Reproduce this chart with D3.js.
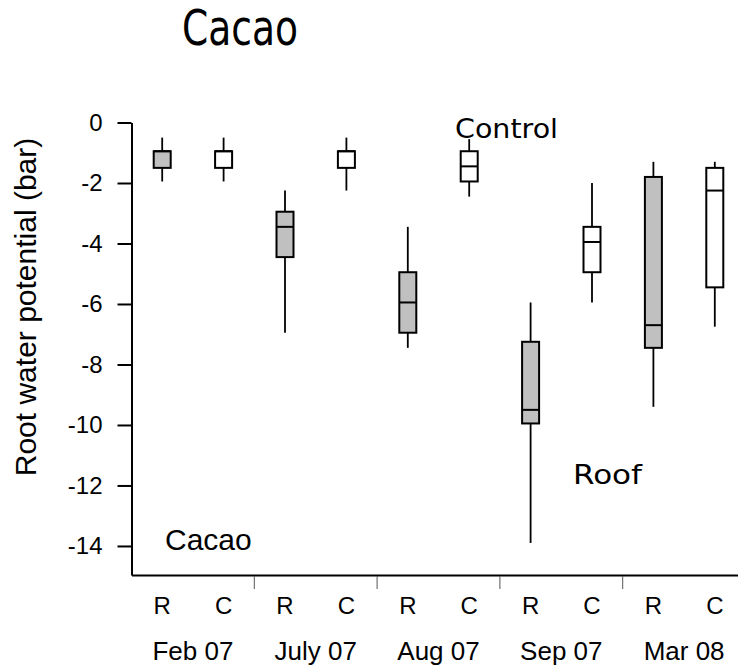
<!DOCTYPE html>
<html>
<head>
<meta charset="utf-8">
<script src="https://cdn.jsdelivr.net/npm/d3@7"></script>
<style>
  html, body { margin: 0; padding: 0; background: #fff; }
  svg { display: block; }
</style>
</head>
<body>
<div id="chart"></div>
<script>
// Data (bar)
const months = ["Feb 07", "July 07", "Aug 07", "Sep 07", "Mar 08"];
const treatments = ["R", "C"];
const yTicks = [0, -2, -4, -6, -8, -10, -12, -14];

// one entry per box, ordered Feb R, Feb C, July R, July C, ...
const whiskerHigh = [-0.5, -0.5, -2.25, -0.5, -3.45, -0.55, -5.95, -2.0, -1.3, -1.3];
const upperQuart = [-0.95, -0.95, -2.95, -0.95, -4.95, -0.95, -7.25, -3.45, -1.8, -1.5];
const medians = [-0.95, -0.95, -3.45, -0.95, -5.95, -1.45, -9.5, -3.95, -6.7, -2.25];
const lowerQuart = [-1.5, -1.5, -4.45, -1.5, -6.95, -1.95, -9.95, -4.95, -7.45, -5.45];
const whiskerLow = [-1.95, -1.95, -6.95, -2.25, -7.45, -2.45, -13.9, -5.95, -9.4, -6.75];

const width = 738;
const height = 669;

const svg = d3
  .select("#chart")
  .append("svg")
  .attr("width", width)
  .attr("height", height);

const keys = [];
months.forEach((m) => treatments.forEach((t) => keys.push(m + "|" + t)));

const boxes = keys.map((k, i) => ({
  key: k,
  treatment: k.split("|")[1],
  hi: whiskerHigh[i],
  q3: upperQuart[i],
  med: medians[i],
  q1: lowerQuart[i],
  lo: whiskerLow[i],
}));

const x = d3.scaleBand().domain(keys).range([131.5, 745.5]);
const xMonth = d3.scaleBand().domain(months).range([131.5, 745.5]);
const y = d3.scaleLinear().domain([0, -14.96]).range([122.5, 575]);

const sans = "'Liberation Sans', Arial, sans-serif";
const verd = "'DejaVu Sans', Verdana, sans-serif";

// Title
svg
  .append("text")
  .attr("x", 182)
  .attr("y", 45)
  .attr("font-family", verd)
  .attr("font-size", 49)
  .attr("textLength", 116)
  .attr("lengthAdjust", "spacingAndGlyphs")
  .text("Cacao");

// Y axis
const yAxis = svg
  .append("g")
  .attr("transform", "translate(131.5,0)")
  .call(
    d3.axisLeft(y).tickValues(yTicks).tickSize(14).tickSizeOuter(0).tickPadding(15)
  );
yAxis.select(".domain").attr("stroke", "#000").attr("stroke-width", 2);
yAxis.selectAll(".tick line").attr("stroke", "#000").attr("stroke-width", 2);
yAxis
  .selectAll(".tick text")
  .attr("font-family", sans)
  .attr("font-size", 24)
  .attr("fill", "#000")
  .text((d) => (d === 0 ? "0" : "-" + Math.abs(d)));

svg
  .append("text")
  .attr("transform", "translate(36,307) rotate(-90)")
  .attr("text-anchor", "middle")
  .attr("font-family", sans)
  .attr("font-size", 30)
  .text("Root water potential (bar)");

// X axis (R / C labels)
const xAxis = svg
  .append("g")
  .attr("transform", "translate(0,575)")
  .call(d3.axisBottom(x).tickSize(0).tickSizeOuter(0).tickPadding(22));
xAxis.select(".domain").attr("stroke", "#000").attr("stroke-width", 2);
xAxis
  .selectAll(".tick text")
  .attr("font-family", sans)
  .attr("font-size", 24)
  .attr("fill", "#000")
  .text((d) => d.split("|")[1]);

// separators between months
svg
  .append("g")
  .selectAll("line")
  .data(months.slice(1))
  .join("line")
  .attr("x1", (d) => xMonth(d))
  .attr("x2", (d) => xMonth(d))
  .attr("y1", 576)
  .attr("y2", 589)
  .attr("stroke", "#555")
  .attr("stroke-width", 1);

svg
  .append("g")
  .selectAll("text")
  .data(months)
  .join("text")
  .attr("x", (d) => xMonth(d) + xMonth.bandwidth() / 2)
  .attr("y", 660)
  .attr("text-anchor", "middle")
  .attr("font-family", sans)
  .attr("font-size", 26)
  .text((d) => d);

// Boxes
const boxW = 17;
const g = svg
  .append("g")
  .selectAll("g")
  .data(boxes)
  .join("g")
  .attr("transform", (d) => `translate(${x(d.key) + x.bandwidth() / 2},0)`);

g.append("line")
  .attr("y1", (d) => y(d.hi))
  .attr("y2", (d) => y(d.q3))
  .attr("stroke", "#000")
  .attr("stroke-width", 1.8);

g.append("line")
  .attr("y1", (d) => y(d.q1))
  .attr("y2", (d) => y(d.lo))
  .attr("stroke", "#000")
  .attr("stroke-width", 1.8);

g.append("rect")
  .attr("x", -boxW / 2)
  .attr("width", boxW)
  .attr("y", (d) => y(d.q3))
  .attr("height", (d) => y(d.q1) - y(d.q3))
  .attr("fill", (d) => (d.treatment === "R" ? "#c0c0c0" : "#fff"))
  .attr("stroke", "#000")
  .attr("stroke-width", 2);

g.append("line")
  .attr("x1", -boxW / 2)
  .attr("x2", boxW / 2)
  .attr("y1", (d) => y(d.med))
  .attr("y2", (d) => y(d.med))
  .attr("stroke", "#000")
  .attr("stroke-width", 2);

// In-plot labels
svg
  .append("text")
  .attr("x", 455)
  .attr("y", 138)
  .attr("font-family", verd)
  .attr("font-size", 27)
  .attr("textLength", 103)
  .attr("lengthAdjust", "spacingAndGlyphs")
  .text("Control");

svg
  .append("text")
  .attr("x", 573)
  .attr("y", 484)
  .attr("font-family", verd)
  .attr("font-size", 27)
  .attr("textLength", 69)
  .attr("lengthAdjust", "spacingAndGlyphs")
  .text("Roof");

svg
  .append("text")
  .attr("x", 165)
  .attr("y", 550)
  .attr("font-family", sans)
  .attr("font-size", 30)
  .text("Cacao");
</script>
</body>
</html>
